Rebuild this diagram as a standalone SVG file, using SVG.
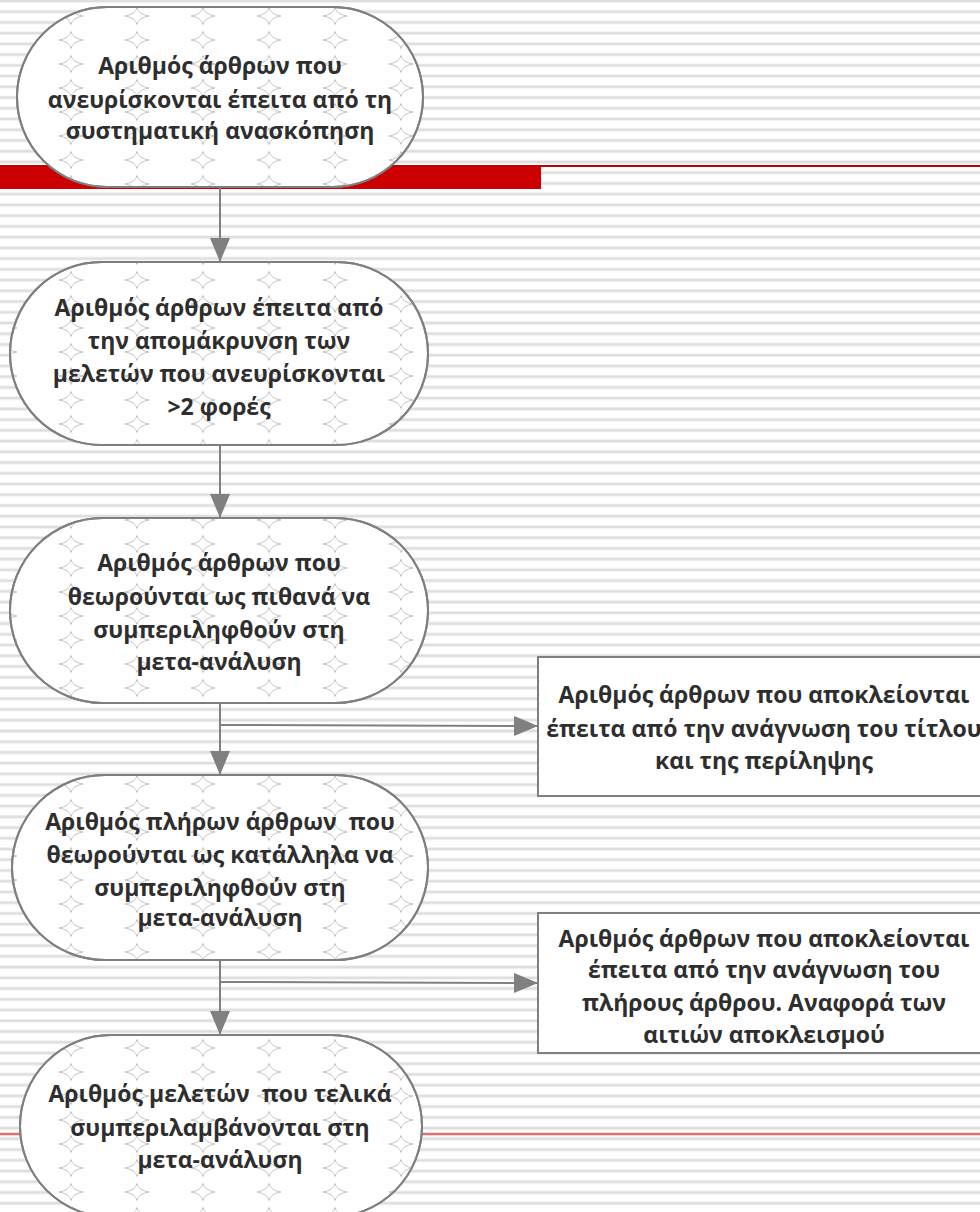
<svg xmlns="http://www.w3.org/2000/svg" width="980" height="1212" viewBox="0 0 980 1212">
<defs>
<style>
.node{fill:#fff;stroke:#7f7f7f;stroke-width:2}
.star-fill{fill:url(#stars);stroke:none}
.edge{fill:none;stroke:#7f7f7f;stroke-width:2}
.box{fill:#fff;stroke:#7f7f7f;stroke-width:2}
.lbl{font-family:"Open Sans","Noto Sans","DejaVu Sans",sans-serif;font-weight:bold;font-size:23px;fill:#2e2e2e;text-anchor:middle}
.conn{stroke:#808080;stroke-width:2;fill:none}
.star{fill:none;stroke:#c2c2c2;stroke-width:1}
</style>
<pattern id="stripes" patternUnits="userSpaceOnUse" x="0" y="-1" width="980" height="10.735">
<rect x="0" y="0" width="980" height="1" fill="#efefef"/>
<rect x="0" y="1" width="980" height="2" fill="#dedede"/>
<rect x="0" y="3" width="980" height="1" fill="#efefef"/>
</pattern>
<path id="st" d="M0,-8.5 Q1.6,-1.6 12,0 Q1.6,1.6 0,8.5 Q-1.6,1.6 -12,0 Q-1.6,-1.6 0,-8.5 Z"/>
<pattern id="stars" patternUnits="userSpaceOnUse" x="71" y="16" width="66" height="24">
<use href="#st" class="star" x="0" y="0"/>
<use href="#st" class="star" x="66" y="0"/>
<use href="#st" class="star" x="0" y="24"/>
<use href="#st" class="star" x="66" y="24"/>
</pattern>
<marker id="ah" markerUnits="userSpaceOnUse" markerWidth="24" markerHeight="20" refX="23" refY="10" orient="auto">
<path d="M0,0 L24,10 L0,20 Z" fill="#808080"/>
</marker>
</defs>
<rect x="0" y="0" width="980" height="1212" fill="#fff"/>
<rect x="0" y="0" width="980" height="1212" fill="url(#stripes)"/>
<line x1="0" y1="166" x2="980" y2="166" stroke="#c00000" stroke-width="2"/>
<rect x="0" y="167" width="541" height="22" fill="#cc0000"/>
<line x1="0" y1="1134" x2="980" y2="1134" stroke="#e07070" stroke-width="2.5"/>
<g id="connectors">
<line class="conn" x1="220" y1="187" x2="220" y2="261" marker-end="url(#ah)"/>
<line class="conn" x1="220" y1="445" x2="220" y2="517" marker-end="url(#ah)"/>
<line class="conn" x1="220" y1="703" x2="220" y2="774" marker-end="url(#ah)"/>
<line class="conn" x1="220" y1="960" x2="220" y2="1034" marker-end="url(#ah)"/>
<line class="conn" x1="220" y1="725" x2="537" y2="726" marker-end="url(#ah)"/>
<line class="conn" x1="220" y1="982" x2="537" y2="983" marker-end="url(#ah)"/>
</g>
<g id="node1">
<rect class="node" x="17" y="7" width="406" height="180" rx="90"/>
<rect class="star-fill" x="17" y="7" width="406" height="180" rx="90"/>
<rect class="edge" x="17" y="7" width="406" height="180" rx="90"/>
<text class="lbl" x="220" y="74">Αριθμός άρθρων που</text>
<text class="lbl" x="220" y="108">ανευρίσκονται έπειτα από τη</text>
<text class="lbl" x="220" y="139">συστηματική ανασκόπηση</text>
</g>
<g id="node2">
<rect class="node" x="10" y="262" width="418" height="183" rx="91.5"/>
<rect class="star-fill" x="10" y="262" width="418" height="183" rx="91.5"/>
<rect class="edge" x="10" y="262" width="418" height="183" rx="91.5"/>
<text class="lbl" x="219" y="316">Αριθμός άρθρων έπειτα από</text>
<text class="lbl" x="219" y="349">την απομάκρυνση των</text>
<text class="lbl" x="219" y="382">μελετών που ανευρίσκονται</text>
<text class="lbl" x="219" y="415">&gt;2 φορές</text>
</g>
<g id="node3">
<rect class="node" x="10" y="518" width="418" height="185" rx="92.5"/>
<rect class="star-fill" x="10" y="518" width="418" height="185" rx="92.5"/>
<rect class="edge" x="10" y="518" width="418" height="185" rx="92.5"/>
<text class="lbl" x="219" y="571">Αριθμός άρθρων που</text>
<text class="lbl" x="219" y="605">θεωρούνται ως πιθανά να</text>
<text class="lbl" x="219" y="638">συμπεριληφθούν στη</text>
<text class="lbl" x="219" y="670">μετα-ανάλυση</text>
</g>
<g id="node4">
<rect class="node" x="12" y="775" width="416" height="185" rx="92.5"/>
<rect class="star-fill" x="12" y="775" width="416" height="185" rx="92.5"/>
<rect class="edge" x="12" y="775" width="416" height="185" rx="92.5"/>
<text class="lbl" x="220" y="830" xml:space="preserve">Αριθμός πλήρων άρθρων  που</text>
<text class="lbl" x="220" y="863">θεωρούνται ως κατάλληλα να</text>
<text class="lbl" x="220" y="896">συμπεριληφθούν στη</text>
<text class="lbl" x="220" y="926">μετα-ανάλυση</text>
</g>
<g id="node5">
<rect class="node" x="20" y="1035" width="402" height="182" rx="91"/>
<rect class="star-fill" x="20" y="1035" width="402" height="182" rx="91"/>
<rect class="edge" x="20" y="1035" width="402" height="182" rx="91"/>
<text class="lbl" x="220" y="1102" xml:space="preserve">Αριθμός μελετών  που τελικά</text>
<text class="lbl" x="220" y="1136">συμπεριλαμβάνονται στη</text>
<text class="lbl" x="220" y="1168">μετα-ανάλυση</text>
</g>
<g id="box1">
<rect class="box" x="538" y="657" width="460" height="139"/>
<text class="lbl" x="764" y="703">Αριθμός άρθρων που αποκλείονται</text>
<text class="lbl" x="764" y="737">έπειτα από την ανάγνωση του τίτλου</text>
<text class="lbl" x="764" y="769">και της περίληψης</text>
</g>
<g id="box2">
<rect class="box" x="538" y="913" width="460" height="140"/>
<text class="lbl" x="764" y="947">Αριθμός άρθρων που αποκλείονται</text>
<text class="lbl" x="764" y="978">έπειτα από την ανάγνωση του</text>
<text class="lbl" x="764" y="1011">πλήρους άρθρου. Αναφορά των</text>
<text class="lbl" x="764" y="1043">αιτιών αποκλεισμού</text>
</g>
</svg>
